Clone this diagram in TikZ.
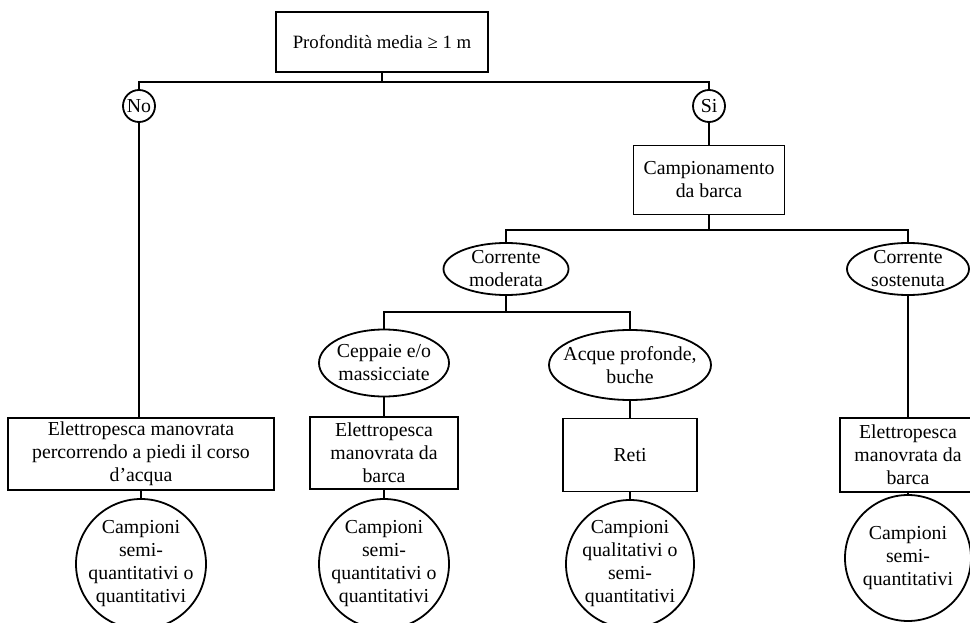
\documentclass[tikz,border=0pt]{standalone}
\usepackage{fontspec}
\setmainfont{Liberation Serif}
\usetikzlibrary{shapes.geometric}
\begin{document}
\begin{tikzpicture}
[x=1pt,y=-1pt,line width=1.8pt,font=\fontsize{19.8}{23}\selectfont,
box/.style = {draw, rectangle, align=center, inner sep=0pt},
answer/.style = {draw, circle, inner sep=1pt, minimum size=32},
oval/.style = {draw, ellipse, align=center, inner sep=-10pt},
disc/.style = {draw, circle, align=center, inner sep=-16pt},]
\useasboundingbox (0,0) rectangle (970,623);
\node (depth) at (382,42)[box,minimum width=212,minimum height=60,font=\fontsize{18.8}{22}\selectfont] {Profondità media ≥ 1 m};
\node (no) at (139,106)[answer] {No};
\node (si) at (709,106)[answer] {Si};
\node (boat) at (709,180)[box,minimum width=151,minimum height=69] {Campionamento\\da barca};
\node (mod) at (506,269)[oval,minimum width=125,minimum height=52] {Corrente\\moderata};
\node (sost) at (908,269)[oval,minimum width=122,minimum height=52] {Corrente\\sostenuta};
\node (cepp) at (384,363)[oval,minimum width=130,minimum height=67] {Ceppaie e/o\\massicciate};
\node (deep) at (630,365)[oval,minimum width=162,minimum height=70] {Acque profonde,\\buche};
\node (walk) at (141,454)[box,minimum width=266,minimum height=72] {Elettropesca manovrata\\percorrendo a piedi il corso\\d’acqua};
\node (boatA) at (384,453)[box,minimum width=148,minimum height=72] {Elettropesca\\manovrata da\\barca};
\node (nets) at (630,455)[box,minimum width=134,minimum height=73] {Reti};
\node (boatB) at (908,455)[box,minimum width=136,minimum height=74] {Elettropesca\\manovrata da\\barca};
\node (resA) at (141,564)[disc,minimum size=130] {Campioni\\semi-\\quantitativi o\\quantitativi};
\node (resB) at (384,564)[disc,minimum size=130] {Campioni\\semi-\\quantitativi o\\quantitativi};
\node (resC) at (630,564)[disc,minimum size=128] {Campioni\\qualitativi o\\semi-\\quantitativi};
\node (resD) at (908,558)[disc,minimum size=126] {Campioni\\semi-\\quantitativi};
\coordinate (j1) at (382,82);
\coordinate (j2) at (709,230);
\coordinate (j3) at (506,312);
\draw (depth)--(j1);
\draw (no) |- (j1) -| (si);
\draw (boat)--(j2);
\draw (mod) |- (j2) -| (sost);
\draw (mod)--(j3);
\draw (cepp) |- (j3) -| (deep);
\draw (no)--(no|-walk.north);
\draw (walk)--(resA);
\draw (si)--(boat);
\draw (cepp)--(boatA);
\draw (boatA)--(resB);
\draw (deep)--(nets);
\draw (nets)--(resC);
\draw (sost)--(boatB);
\draw (boatB)--(resD);
\end{tikzpicture}
\end{document}
